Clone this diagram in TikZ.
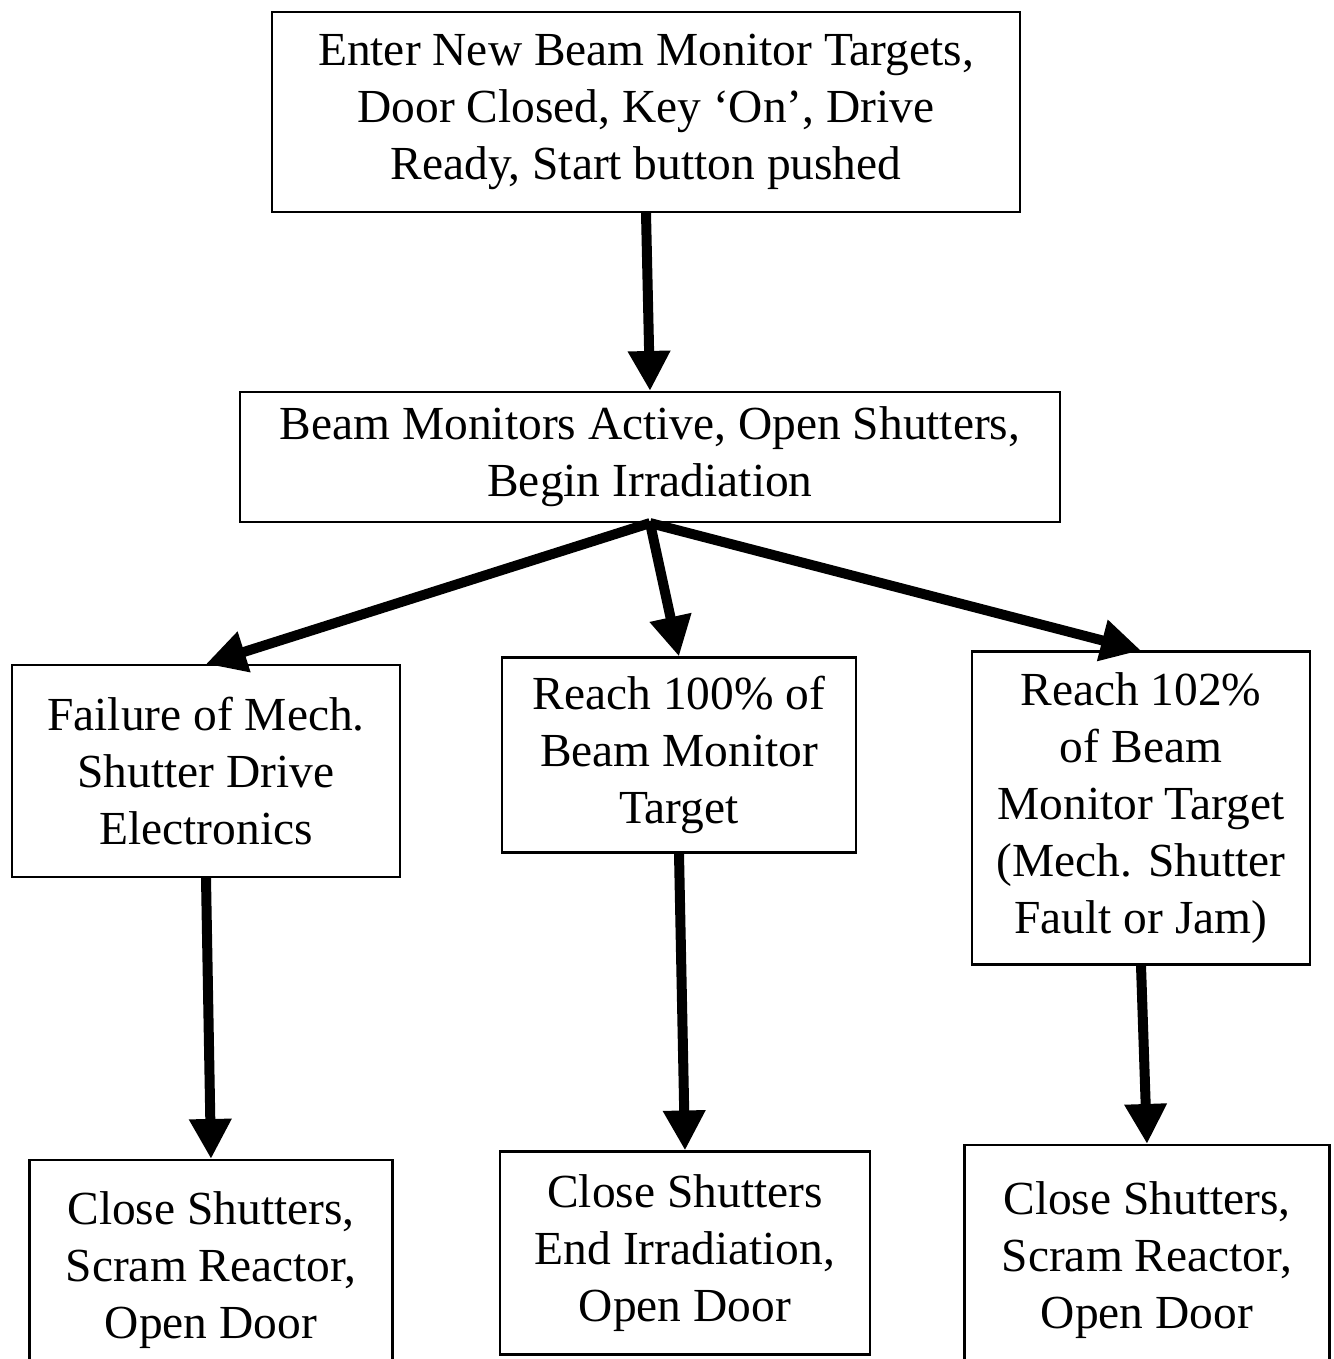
\documentclass[tikz,border=0pt]{standalone}
\usepackage{fontspec}
\setmainfont{Liberation Serif}
\usetikzlibrary{arrows.meta,positioning}

\begin{document}
\begin{tikzpicture}[x=0.02cm,y=-0.02cm,font=\fontsize{27}{32.5}\selectfont,
  box/.style={draw,line width=1.2pt,align=center,inner sep=0pt},
  flow/.style={-{Triangle[width=0.8cm,length=0.8cm]},line width=0.2cm}]
\useasboundingbox (0,0) rectangle (1333,1359);
\clip (0,0) rectangle (1333,1359);
% start and irradiation
\node[box,minimum width=14.96cm,minimum height=4cm] (start) at (646,112)
  {Enter New Beam Monitor Targets,\\ Door Closed, Key `On', Drive\\ Ready, Start button pushed};
\node[box,minimum width=16.4cm,minimum height=2.6cm] (irrad) at (650,457)
  {Beam Monitors Active, Open Shutters,\\ Begin Irradiation};
% three outcomes
\node[box,minimum width=7.76cm,minimum height=4.24cm] (fail) at (206,771)
  {Failure of Mech.\\ Shutter Drive\\ Electronics};
\node[box,minimum width=7.08cm,minimum height=3.9cm] (full) at (679,755)
  {Reach 100\% of\\ Beam Monitor\\ Target};
\node[box,minimum width=6.76cm,minimum height=6.26cm] (over) at (1141,808)
  {Reach 102\%\\ of Beam\\ Monitor Target\\ (Mech. Shutter\\ Fault or Jam)};
% actions
\node[box,minimum width=7.26cm,minimum height=4.4cm] (scramA) at (211,1270)
  {Close Shutters,\\ Scram Reactor,\\ Open Door};
\node[box,minimum width=7.4cm,minimum height=4.06cm] (endirr) at (685,1253)
  {Close Shutters\\ End Irradiation,\\ Open Door};
\node[box,minimum width=7.3cm,minimum height=4.6cm] (scramB) at (1147,1260)
  {Close Shutters,\\ Scram Reactor,\\ Open Door};
\draw[flow] (start.south) -- (irrad.north);
\draw[flow] (irrad.south) -- (fail.north);
\draw[flow] (irrad.south) -- (full.north);
\draw[flow] (irrad.south) -- (over.north);
\draw[flow] (fail.south) -- (scramA.north);
\draw[flow] (full.south) -- (endirr.north);
\draw[flow] (over.south) -- (scramB.north);
\end{tikzpicture}
\end{document}
